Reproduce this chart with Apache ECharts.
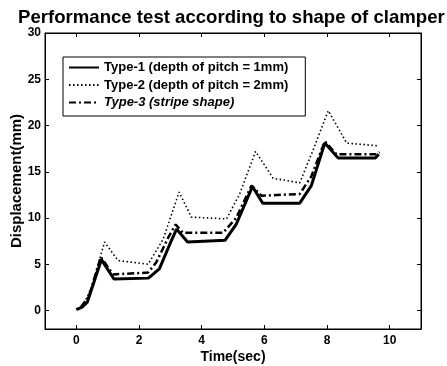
<!DOCTYPE html>
<html>
<head>
<meta charset="utf-8">
<script src="https://cdn.jsdelivr.net/npm/echarts@6/dist/echarts.min.js"></script>
<style>html,body{margin:0;padding:0;background:#fff}#c{width:447px;height:366px}</style>
</head>
<body>
<div id="c"></div>
<script>
var titleText = 'Performance test according to shape of clamper';
var seriesNames = ['Type-1 (depth of pitch = 1mm)', 'Type-2 (depth of pitch = 2mm)', 'Type-3 (stripe shape)'];
var xTicks = [0, 2, 4, 6, 8, 10];
var yTicks = [0, 5, 10, 15, 20, 25, 30];

var t1 = [0, 0.2, 0.35, 0.8, 1.2, 2.3, 2.65, 3.0, 3.2, 3.55, 4.75, 5.1, 5.62, 5.95, 7.13, 7.5, 7.93, 8.35, 9.55, 9.65];
var v1 = [0.1, 0.4, 0.9, 5.5, 3.4, 3.5, 4.5, 7.3, 8.8, 7.4, 7.6, 9.3, 13.4, 11.6, 11.6, 13.5, 18.1, 16.5, 16.5, 16.9];

var t2 = [0.25, 0.5, 0.9, 1.33, 2.29, 2.77, 3.28, 3.67, 4.79, 5.2, 5.72, 6.28, 7.13, 7.55, 8.04, 8.63, 9.64];
var v2 = [0.8, 2.6, 7.4, 5.4, 5.0, 7.7, 12.8, 10.1, 9.9, 12.5, 17.2, 14.3, 13.8, 17.3, 21.6, 18.1, 17.8];

var t3 = [0.15, 0.4, 0.78, 1.17, 2.29, 2.55, 2.95, 3.17, 3.4, 4.68, 5.1, 5.59, 5.91, 7.13, 7.5, 7.93, 8.3, 9.58, 9.68];
var v3 = [0.4, 1.5, 5.8, 3.9, 4.1, 5.2, 8.0, 9.3, 8.4, 8.4, 10.0, 13.5, 12.4, 12.6, 14.5, 18.3, 16.9, 16.9, 17.1];

function pairs(t, v) { return t.map(function (x, i) { return [x, v[i]]; }); }

var chart = echarts.init(document.getElementById('c'));
var ff = 'Liberation Sans, Arial, sans-serif';
function axLine() { return { show: true, onZero: false, lineStyle: { color: '#000', width: 1 } }; }
function xAx(pos, labels) {
  return {
    type: 'value', position: pos, min: -1, max: 11,
    axisLine: axLine(),
    axisTick: { show: true, inside: true, length: 4, lineStyle: { color: '#000' }, customValues: xTicks },
    axisLabel: { show: labels, customValues: xTicks, color: '#000', fontWeight: 'bold', fontSize: 12, fontFamily: ff, margin: 6 },
    splitLine: { show: false },
    name: labels ? 'Time(sec)' : '', nameLocation: 'middle', nameGap: 21, nameMoveOverlap: false,
    nameTextStyle: { color: '#000', fontWeight: 'bold', fontSize: 14, fontFamily: ff }
  };
}
function yAx(pos, labels) {
  return {
    type: 'value', position: pos, min: -2, max: 30,
    axisLine: axLine(),
    axisTick: { show: true, inside: true, length: 4, lineStyle: { color: '#000' }, customValues: yTicks },
    axisLabel: { show: labels, customValues: yTicks, color: '#000', fontWeight: 'bold', fontSize: 12, fontFamily: ff, margin: 4 },
    splitLine: { show: false },
    name: labels ? 'Displacement(mm)' : '', nameLocation: 'middle', nameGap: 21, nameRotate: 90, nameMoveOverlap: false,
    nameTextStyle: { color: '#000', fontWeight: 'bold', fontSize: 15, fontFamily: ff }
  };
}
var rich = { i: { fontStyle: 'italic', fontWeight: 'bold', fontSize: 13, fontFamily: ff, color: '#000' } };

chart.setOption({
  animation: false,
  backgroundColor: '#fff',
  title: {
    text: titleText, left: 13, top: 3,
    textStyle: { color: '#000', fontWeight: 'bold', fontSize: 18.6, fontFamily: ff }
  },
  grid: { show: true, borderColor: '#000', borderWidth: 1, backgroundColor: 'transparent',
          left: 45, right: 26, top: 33, bottom: 37, containLabel: false, outerBoundsMode: 'none' },
  xAxis: [xAx('bottom', true), xAx('top', false)],
  yAxis: [yAx('left', true), yAx('right', false)],
  legend: {
    orient: 'vertical', left: 63, top: 57,
    borderColor: '#000', borderWidth: 1, backgroundColor: '#fff',
    padding: [4, 17, 7, 5], itemWidth: 30, itemHeight: 2, itemGap: 4.5,
    data: seriesNames,
    itemStyle: { opacity: 0 },
    textStyle: { color: '#000', fontWeight: 'bold', fontSize: 13, fontFamily: ff, lineHeight: 12, rich: rich },
    formatter: function (n) { return n === seriesNames[2] ? '{i|' + n + '}' : n; }
  },
  series: [
    { name: seriesNames[0], type: 'line', symbol: 'none', data: pairs(t1, v1),
      lineStyle: { color: '#000', width: 3, type: 'solid' }, itemStyle: { color: '#000' }, z: 3 },
    { name: seriesNames[1], type: 'line', symbol: 'none', data: pairs(t2, v2),
      lineStyle: { color: '#000', width: 1.6, type: [1.5, 2.5] }, itemStyle: { color: '#000' }, z: 2 },
    { name: seriesNames[2], type: 'line', symbol: 'none', data: pairs(t3, v3),
      lineStyle: { color: '#000', width: 2.5, type: [7, 3, 2, 3] }, itemStyle: { color: '#000' }, z: 2 }
  ]
});
</script>
</body>
</html>
